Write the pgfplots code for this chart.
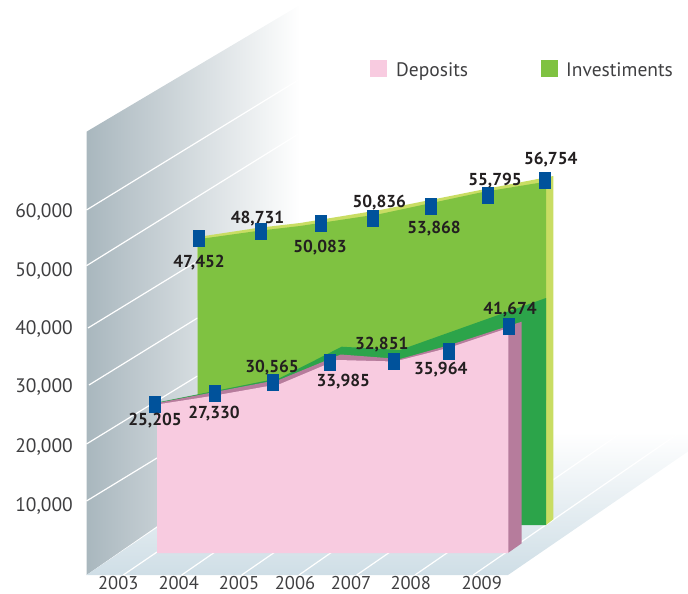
\documentclass[border=0pt]{standalone}
\usepackage{fontspec}
\setmainfont{PT Sans}
\usepackage{pgfplots}
\pgfplotsset{compat=1.18}
\definecolor{pinkF}{HTML}{F8CBE0}
\definecolor{mauve}{HTML}{B67C9C}
\definecolor{greenF}{HTML}{7FC241}
\definecolor{greenD}{HTML}{2CA44A}
\definecolor{yel}{HTML}{C9DD63}
\definecolor{mk}{HTML}{00529B}
\definecolor{txt}{HTML}{3F3F41}
\definecolor{txb}{HTML}{231F20}
\definecolor{wallL}{HTML}{A9B7BE}
\definecolor{wallM}{HTML}{C9D3DA}
\definecolor{flA}{HTML}{CFDEE6}
\definecolor{flB}{HTML}{DAE6ED}
\tikzset{tyl/.style={font=\fontsize{19.5}{21}\selectfont, text=txt, inner sep=0pt},
  tyx/.style={font=\fontsize{18.5}{20}\selectfont, text=txt, inner sep=0pt, anchor=base}}
\begin{document}
\begin{tikzpicture}
\path[use as bounding box] (0,0) rectangle (688pt,594pt);
\begin{axis}[
  at={(0,0)}, anchor=south west,
  scale only axis, width=688pt, height=594pt,
  xmin=0, xmax=688, ymin=0, ymax=594, y dir=reverse,
  hide axis, clip=false,
]
% wall and floor
\addplot[draw=none, left color=wallL, middle color=wallM, right color=white] coordinates {(86.5,131.7)(300,5)(300,427)(86.5,575)} -- cycle;
\addplot[draw=none, top color=white, middle color=flB, bottom color=flA] coordinates {(86.5,575)(508,575)(688,451.5)(688,432)(300,432)} -- cycle;
% wall grid
\addplot[white,line width=1.2pt] coordinates {(86.5,210)(300,79)};
\addplot[white,line width=1.2pt] coordinates {(86.5,265.7)(300,133)};
\addplot[white,line width=1.2pt] coordinates {(88,328)(197.5,261)};
\addplot[white,line width=1.2pt] coordinates {(89,385)(197.5,318)};
\addplot[white,line width=1.2pt] coordinates {(86.5,444)(197.5,376)};
\addplot[white,line width=1.2pt] coordinates {(86.5,501)(157,458)};
% floor grid
\addplot[white,line width=1.2pt] coordinates {(123.3,575)(157,552)};
\addplot[white,line width=1.2pt] coordinates {(181.7,575)(215,552)};
\addplot[white,line width=1.2pt] coordinates {(241.7,575)(275,552)};
\addplot[white,line width=1.2pt] coordinates {(299,575)(332,552)};
\addplot[white,line width=1.2pt] coordinates {(356.7,575)(390,552)};
\addplot[white,line width=1.2pt] coordinates {(415,575)(621,433)};
\addplot[white,line width=1.2pt] coordinates {(473.3,575)(679,433)};
% investments: edge, side, face
\addplot[draw=none,fill=yel] coordinates {(197.5,237)(257,228)(300,223)(380,210)(483,189.5)(553.3,176)(553.3,519.3)(546,525)(546,300)(197.5,300)} -- cycle;
\addplot[draw=none,fill=greenF] coordinates {(197.5,240)(205,238.3)(257,231)(300,226)(380,214)(483,192)(546,181.7)(546,400)(197.5,400)} -- cycle;
\addplot[draw=none,fill=greenD] coordinates {(157,402.5)(280,378)(341.7,346.7)(400,350)(546,298)(546,525)(157,525)} -- cycle;
% deposits: edge, side, face
\addplot[draw=none,fill=mauve] coordinates {(157,403)(280,379.5)(340.7,354.5)(400,359)(450,345)(521.7,321.7)(521.7,543.3)(508.3,552.7)(157,552.7)} -- cycle;
\addplot[draw=none,fill=pinkF] coordinates {(157,404.5)(215,395.5)(280,384)(337,360)(395,361.5)(450,347.5)(508.3,328)(508.3,553)(157,553)} -- cycle;
% markers and values
\addplot[only marks, mark=square*, mark size=8pt, mark options={xscale=0.6875, fill=mk, draw=mk, line width=0pt},
  point meta=explicit,
  visualization depends on={\thisrow{dx} \as \dx},
  visualization depends on={\thisrow{dy}-6.3 \as \dy},
  nodes near coords={\pgfmathprintnumber[assume math mode=true,fixed,precision=0,1000 sep={,}]{\pgfplotspointmeta}},
  every node near coord/.style={anchor=base, inner sep=0pt, xshift=\dx pt, yshift=\dy pt, text=txb, font=\fontsize{17.3}{19}\selectfont\bfseries},
] table[x=x,y=y,meta=v] {
x y v dx dy
155.3 404 25205 -0.3 -15.3
215.3 393 27330 -1.3 -18.7
273.3 382 30565 -1.3 16
330.3 362 33985 13 -18
394.3 361 32851 -12.6 18.3
449.3 351 35964 -8.6 -17.3
509.3 326 41674 0.7 17.7
};
\addplot[only marks, mark=square*, mark size=8pt, mark options={xscale=0.6875, fill=mk, draw=mk, line width=0pt},
  point meta=explicit,
  visualization depends on={\thisrow{dx} \as \dx},
  visualization depends on={\thisrow{dy}-6.3 \as \dy},
  nodes near coords={\pgfmathprintnumber[assume math mode=true,fixed,precision=0,1000 sep={,}]{\pgfplotspointmeta}},
  every node near coord/.style={anchor=base, inner sep=0pt, xshift=\dx pt, yshift=\dy pt, text=txb, font=\fontsize{17.3}{19}\selectfont\bfseries},
] table[x=x,y=y,meta=v] {
x y v dx dy
199.3 238 47452 -0.3 -23
261.3 231 48731 -3.8 14.3
321.3 223 50083 -1.3 -23
373.3 218 50836 6 17.3
431.3 206 53868 2.7 -20.7
488.3 195 55795 6.7 15.7
545.3 180 56754 5.4 21.7
};
% legend swatches
\addplot[only marks, mark=square*, mark size=8pt, mark options={fill=pinkF, draw=pinkF, line width=0pt}] coordinates {(378,69)};
\addplot[only marks, mark=square*, mark size=8pt, mark options={fill=greenF, draw=greenF, line width=0pt}] coordinates {(549,69)};
\node[tyl,anchor=base west] at (axis cs:396,76.7) {Deposits};
\node[tyl,anchor=base west] at (axis cs:566,76.7) {Investiments};
% y labels
\node[tyl,anchor=base east] at (axis cs:73,217.3) {60,000};
\node[tyl,anchor=base east] at (axis cs:73,276) {50,000};
\node[tyl,anchor=base east] at (axis cs:73,334) {40,000};
\node[tyl,anchor=base east] at (axis cs:73,392.7) {30,000};
\node[tyl,anchor=base east] at (axis cs:73,452.3) {20,000};
\node[tyl,anchor=base east] at (axis cs:73,511) {10,000};
% x labels
\node[tyx] at (axis cs:118.3,589) {2003};
\node[tyx] at (axis cs:178.7,589) {2004};
\node[tyx] at (axis cs:239,589) {2005};
\node[tyx] at (axis cs:295,589) {2006};
\node[tyx] at (axis cs:351,589) {2007};
\node[tyx] at (axis cs:410.7,589) {2008};
\node[tyx] at (axis cs:481.7,589) {2009};
\end{axis}
\end{tikzpicture}
\end{document}
